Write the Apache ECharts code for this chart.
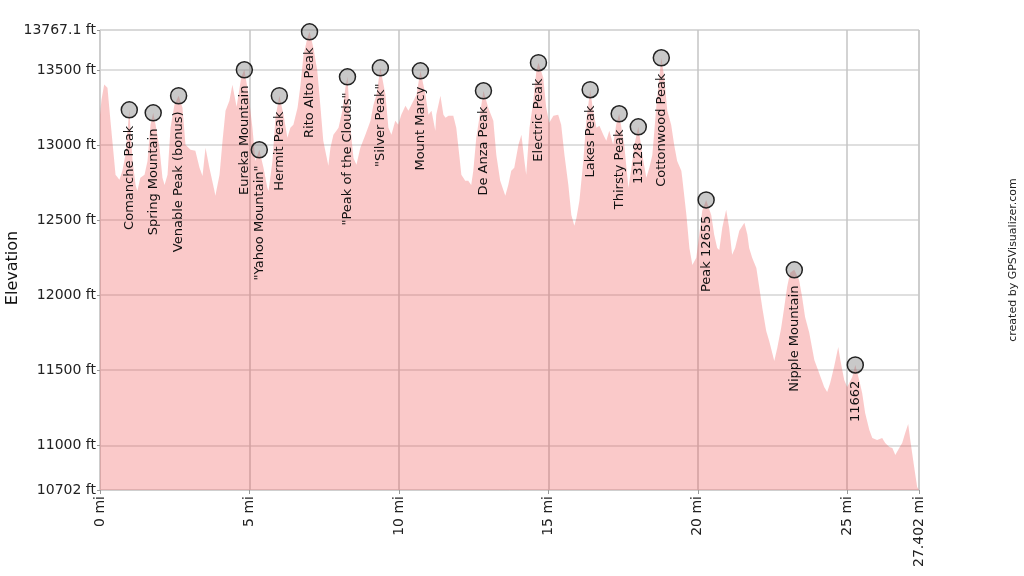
<!DOCTYPE html>
<html>
<head>
<meta charset="utf-8">
<script src="https://cdn.jsdelivr.net/npm/echarts@6/dist/echarts.min.js"></script>
<style>
html,body{margin:0;padding:0;background:#fff;}
#chart{width:1024px;height:576px;}
</style>
</head>
<body>
<div id="chart"></div>
<script>
// Track profile: distance (mi) and elevation (ft)
const distMi = [0.00,0.05,0.14,0.25,0.35,0.52,0.65,0.75,0.85,0.98,1.09,1.19,1.25,1.35,1.49,1.59,1.69,1.78,1.86,1.99,2.09,2.16,2.26,2.36,2.49,2.63,2.76,2.86,3.03,3.19,3.33,3.43,3.53,3.66,3.83,3.86,4.00,4.10,4.20,4.33,4.43,4.57,4.73,4.83,4.97,5.10,5.20,5.33,5.47,5.60,5.64,5.77,5.87,6.00,6.14,6.27,6.37,6.47,6.61,6.71,6.81,6.94,7.01,7.14,7.27,7.37,7.47,7.64,7.71,7.81,7.91,7.98,8.11,8.21,8.28,8.38,8.48,8.58,8.71,8.88,9.05,9.15,9.25,9.38,9.55,9.65,9.75,9.88,9.98,10.08,10.22,10.32,10.42,10.59,10.72,10.89,10.99,11.09,11.22,11.25,11.39,11.49,11.56,11.66,11.82,11.92,12.02,12.09,12.22,12.32,12.42,12.49,12.59,12.73,12.83,12.99,13.16,13.26,13.39,13.56,13.66,13.76,13.86,14.00,14.10,14.20,14.26,14.37,14.50,14.60,14.67,14.83,14.93,15.03,15.17,15.33,15.43,15.54,15.67,15.77,15.87,15.94,16.04,16.17,16.27,16.40,16.50,16.61,16.71,16.84,16.94,17.04,17.17,17.27,17.37,17.54,17.68,17.78,17.88,18.01,18.18,18.28,18.38,18.48,18.61,18.78,18.88,18.98,19.11,19.21,19.31,19.45,19.48,19.62,19.72,19.82,19.95,20.05,20.15,20.28,20.45,20.55,20.65,20.72,20.82,20.95,21.05,21.15,21.25,21.39,21.56,21.66,21.72,21.82,21.96,22.06,22.16,22.29,22.39,22.56,22.66,22.79,22.89,22.99,23.09,23.23,23.39,23.49,23.59,23.73,23.90,24.06,24.23,24.33,24.43,24.56,24.70,24.77,24.90,25.00,25.17,25.27,25.40,25.50,25.60,25.74,25.84,26.00,26.17,26.27,26.41,26.51,26.61,26.74,26.84,26.94,27.04,27.11,27.24,27.34,27.402];
const elevFt = [13202,13302,13404,13382,13162,12802,12769,12829,12935,13235,12895,12735,12695,12782,12802,12895,13135,13215,13135,12982,12782,12735,12802,13115,13269,13329,13249,13002,12969,12962,12849,12795,12982,12849,12695,12662,12802,13029,13229,13295,13402,13255,13455,13502,13335,13115,12895,12969,12849,12715,12695,12895,13182,13329,13202,13049,13115,13135,13249,13402,13602,13715,13755,13649,13495,13269,13029,12862,12982,13069,13095,13115,13229,13382,13455,13115,12915,12869,12982,13069,13162,13269,13335,13515,13335,13115,13069,13162,13135,13202,13262,13229,13269,13335,13495,13335,13202,13229,13095,13202,13329,13202,13182,13195,13195,13115,12935,12802,12762,12762,12735,12829,13049,13229,13362,13249,13162,12935,12762,12662,12735,12829,12849,13002,13069,12895,12802,13115,13295,13495,13549,13449,13249,13149,13195,13202,13135,12935,12735,12535,12462,12515,12629,12895,13162,13369,13229,13115,13129,13069,13029,13095,13002,13135,13209,13002,12715,12849,13002,13122,12895,12782,12849,12935,13249,13582,13449,13229,13135,13002,12895,12829,12782,12535,12315,12202,12249,12402,12562,12635,12535,12402,12315,12302,12449,12569,12449,12269,12315,12429,12482,12402,12315,12249,12182,12049,11915,11762,11695,11562,11649,11782,11915,12055,12149,12169,12102,11989,11855,11749,11569,11482,11389,11355,11415,11522,11655,11569,11435,11389,11455,11535,11435,11349,11215,11102,11049,11035,11049,11015,10989,10982,10935,10982,11015,11082,11142,11035,10855,10722,10702];

// Named peaks along the route
const peakNames = ["Comanche Peak","Spring Mountain","Venable Peak (bonus)","Eureka Mountain","\"Yahoo Mountain\"","Hermit Peak","Rito Alto Peak","\"Peak of the Clouds\"","\"Silver Peak\"","Mount Marcy","De Anza Peak","Electric Peak","Lakes Peak","Thirsty Peak","13128","Cottonwood Peak","Peak 12655","Nipple Mountain","11662"];
const peakMi = [0.98,1.78,2.63,4.83,5.33,6.00,7.01,8.28,9.38,10.72,12.83,14.67,16.40,17.37,18.01,18.78,20.28,23.23,25.27];
const peakFt = [13235,13215,13329,13502,12969,13329,13755,13455,13515,13495,13362,13549,13369,13209,13122,13582,12635,12169,11535];

// Axis ticks
const xTicks = [0,5,10,15,20,25,27.402];
const yTicks = [10702,11000,11500,12000,12500,13000,13500,13767.1];

const FONT = 'DejaVu Sans';
const chart = echarts.init(document.getElementById('chart'), null, {renderer:'canvas'});

const profile = distMi.map((d,i)=>[d, elevFt[i]]);
const peaks = peakNames.map((n,i)=>({name:n, value:[peakMi[i], peakFt[i]]}));

chart.setOption({
  animation:false,
  backgroundColor:'#fff',
  grid:{left:100, right:105, top:30, bottom:86, show:true, borderColor:'#cfcfcf', borderWidth:1,
    containLabel:false, outerBoundsMode:'none'},
  xAxis:{
    type:'value', min:0, max:27.402,
    axisLine:{show:true, lineStyle:{color:'#cfcfcf'}},
    axisTick:{show:true, customValues:xTicks, length:4, lineStyle:{color:'#999'}},
    axisLabel:{customValues:xTicks, rotate:90, fontSize:14, fontFamily:FONT, color:'#222', margin:6,
      formatter:v=>v+' mi'},
    splitLine:{show:true, lineStyle:{color:'#c4c4c4', width:1.5}}
  },
  yAxis:{
    type:'value', min:10702, max:13767.1,
    axisLine:{show:true, lineStyle:{color:'#cfcfcf'}},
    axisTick:{show:true, customValues:yTicks, length:3, lineStyle:{color:'#999'}},
    axisLabel:{customValues:yTicks, fontSize:14, fontFamily:FONT, color:'#222', margin:4,
      formatter:v=>v+' ft'},
    splitLine:{show:true, lineStyle:{color:'#d4d4d4', width:1.5}}
  },
  series:[
    {
      type:'line', data:profile, symbol:'none', smooth:false,
      lineStyle:{width:0, color:'rgba(240,80,80,0.3)'},
      areaStyle:{color:'rgba(240,80,80,0.31)', opacity:1, origin:'start'},
      z:2
    },
    {
      type:'scatter', data:peaks, symbol:'circle', symbolSize:16,
      itemStyle:{color:'rgba(120,120,120,0.4)', borderColor:'#222', borderWidth:1.5, opacity:1},
      label:{show:true, formatter:'{b}', position:'bottom', rotate:90, align:'right', verticalAlign:'middle',
        distance:7, fontSize:13, fontFamily:FONT, color:'#111'},
      z:3
    }
  ],
  graphic:[{
    type:'text', x:13, y:268, rotation:Math.PI/2,
    style:{text:'Elevation', fontSize:16, fontFamily:FONT, fill:'#111',
      align:'center', verticalAlign:'middle'}
  },{
    type:'text', x:1013, y:260, rotation:Math.PI/2,
    style:{text:'created by GPSVisualizer.com', fontSize:11, fontFamily:FONT, fill:'#222',
      align:'center', verticalAlign:'middle'}
  }]
});
</script>
</body>
</html>
